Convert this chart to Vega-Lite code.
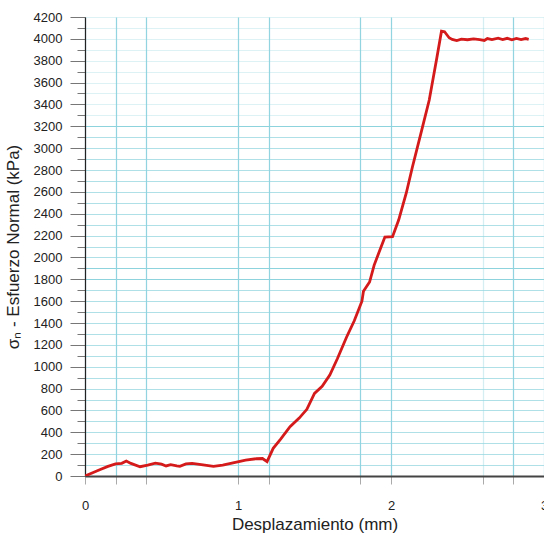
{
  "$schema": "https://vega.github.io/schema/vega-lite/v6.json",
  "width": 459,
  "height": 459,
  "autosize": {"type": "none"},
  "padding": {"left": 85, "top": 17, "right": 0, "bottom": 59},
  "background": "white",
  "config": {
    "font": "Liberation Sans",
    "view": {"stroke": null}
  },
  "data": {
    "values": [
      {"d": 0, "s": 0}, {"d": 0.05, "s": 30}, {"d": 0.1, "s": 60}, {"d": 0.15, "s": 88},
      {"d": 0.2, "s": 110}, {"d": 0.24, "s": 116}, {"d": 0.27, "s": 137}, {"d": 0.3, "s": 115},
      {"d": 0.36, "s": 85}, {"d": 0.41, "s": 100}, {"d": 0.46, "s": 118}, {"d": 0.5, "s": 108},
      {"d": 0.53, "s": 92}, {"d": 0.56, "s": 103}, {"d": 0.6, "s": 92}, {"d": 0.62, "s": 88},
      {"d": 0.66, "s": 110}, {"d": 0.7, "s": 115}, {"d": 0.76, "s": 105}, {"d": 0.84, "s": 88},
      {"d": 0.9, "s": 100}, {"d": 0.99, "s": 128}, {"d": 1.05, "s": 145}, {"d": 1.12, "s": 158},
      {"d": 1.16, "s": 160}, {"d": 1.19, "s": 131}, {"d": 1.23, "s": 253}, {"d": 1.28, "s": 340},
      {"d": 1.34, "s": 451}, {"d": 1.4, "s": 530}, {"d": 1.45, "s": 610}, {"d": 1.5, "s": 756},
      {"d": 1.55, "s": 820}, {"d": 1.6, "s": 924}, {"d": 1.65, "s": 1075}, {"d": 1.71, "s": 1272},
      {"d": 1.76, "s": 1420}, {"d": 1.81, "s": 1600}, {"d": 1.82, "s": 1690}, {"d": 1.86, "s": 1775},
      {"d": 1.89, "s": 1930}, {"d": 1.92, "s": 2040}, {"d": 1.96, "s": 2187}, {"d": 2.01, "s": 2190},
      {"d": 2.05, "s": 2342}, {"d": 2.1, "s": 2590}, {"d": 2.14, "s": 2827}, {"d": 2.2, "s": 3160},
      {"d": 2.25, "s": 3440}, {"d": 2.3, "s": 3830}, {"d": 2.33, "s": 4070}, {"d": 2.35, "s": 4065},
      {"d": 2.38, "s": 4010}, {"d": 2.4, "s": 3995}, {"d": 2.43, "s": 3985}, {"d": 2.46, "s": 3998},
      {"d": 2.5, "s": 3992}, {"d": 2.54, "s": 4000}, {"d": 2.58, "s": 3993}, {"d": 2.61, "s": 3985},
      {"d": 2.63, "s": 4003}, {"d": 2.66, "s": 3994}, {"d": 2.7, "s": 4006}, {"d": 2.73, "s": 3993},
      {"d": 2.76, "s": 4005}, {"d": 2.79, "s": 3992}, {"d": 2.82, "s": 4004}, {"d": 2.85, "s": 3994},
      {"d": 2.88, "s": 4003}, {"d": 2.9, "s": 3996}
    ]
  },
  "mark": {"type": "line", "color": "#d41a1a", "strokeWidth": 2.8, "clip": true},
  "encoding": {
    "x": {
      "field": "d",
      "type": "quantitative",
      "scale": {"domain": [0, 3], "nice": false, "zero": false},
      "axis": {
        "title": "Desplazamiento (mm)",
        "titleFontSize": 17,
        "titleFontWeight": "normal",
        "titleColor": "#222",
        "titlePadding": 4,
        "values": [0, 0.2, 0.4, 1, 1.2, 1.8, 2, 2.6, 2.8, 3],
        "labelExpr": "datum.value % 1 === 0 ? format(datum.value, 'd') : ''",
        "labelFontSize": 13,
        "labelColor": "#222",
        "labelPadding": 15,
        "labelFlush": false,
        "labelOverlap": false,
        "domainColor": "#444",
        "domainWidth": 2,
        "tickColor": "#aaa",
        "tickSize": 8,
        "grid": true,
        "gridColor": "#86cfdb",
        "gridOpacity": {"condition": {"test": "datum.value == 2.6", "value": 0.35}, "value": 0.9},
        "gridWidth": 1.2
      }
    },
    "y": {
      "field": "s",
      "type": "quantitative",
      "scale": {"domain": [0, 4200], "nice": false},
      "axis": {
        "title": "σₙ - Esfuerzo Normal (kPa)",
        "titleFontSize": 17,
        "titleFontWeight": "normal",
        "titleColor": "#222",
        "titlePadding": 11,
        "values": [0,100,200,300,400,500,600,700,800,900,1000,1100,1200,1300,1400,1500,1600,1700,1800,1900,2000,2100,2200,2300,2400,2500,2600,2700,2800,2900,3000,3100,3200,3300,3400,3500,3600,3700,3800,3900,4000,4100,4200],
        "labelExpr": "datum.value % 200 === 0 ? format(datum.value, 'd') : ''",
        "labelFontSize": 13,
        "labelColor": "#222",
        "labelPadding": 8,
        "labelOverlap": false,
        "domainColor": "#222",
        "domainWidth": 1.2,
        "tickColor": "#777",
        "tickSize": {"condition": {"test": "datum.value % 200 === 0", "value": 15}, "value": 8},
        "grid": true,
        "gridColor": "#8dd3de",
        "gridOpacity": {"condition": [
          {"test": "datum.value == 3200 || datum.value == 1800 || datum.value == 1900", "value": 1},
          {"test": "datum.value > 3200", "value": 0.3}
        ], "value": 0.7},
        "gridWidth": 1.2
      }
    }
  }
}
